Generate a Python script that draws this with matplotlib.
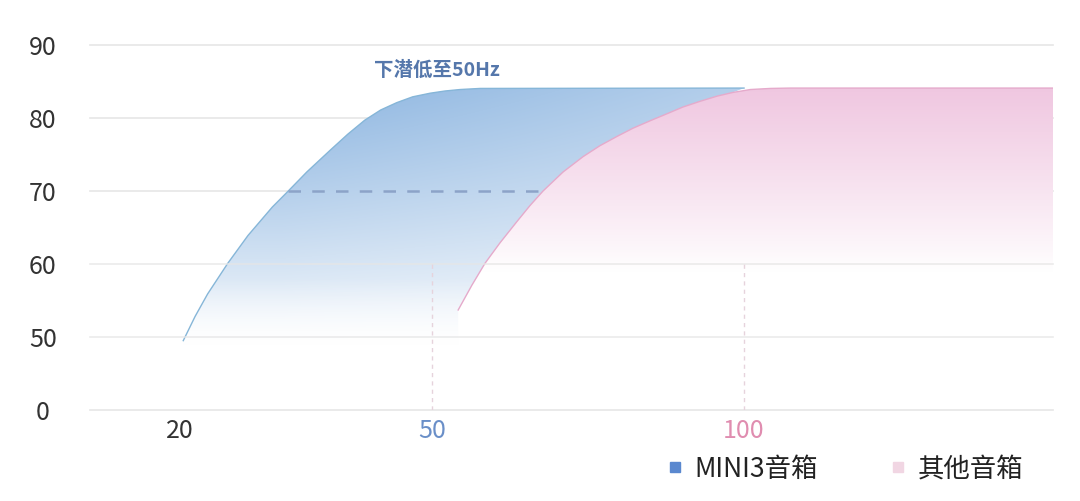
"""Bass extension comparison: MINI3 speaker vs other speakers."""

import matplotlib
matplotlib.use('Agg')
import matplotlib.pyplot as plt
from matplotlib.lines import Line2D
from matplotlib.patches import Polygon
import numpy as np


plt.rcParams['font.family'] = ['Noto Sans CJK SC', 'DejaVu Sans']

# response curves (frequency in Hz, level in dB)
BLUE_HZ = [20.4, 21.8, 23.3, 25.7, 28.1, 31.0, 32.9, 35.1, 37.9, 40.0,
           42.0, 43.9, 45.8, 47.7, 49.8, 52.1, 54.5, 57.7, 100.0]
BLUE_DB = [49.5, 52.8, 55.9, 60.1, 63.9, 67.8, 70.0, 72.6, 75.6, 77.8,
           79.7, 81.1, 82.1, 82.9, 83.4, 83.7, 83.9, 84.05, 84.1]
PINK_HZ = [54.2, 56.4, 58.5, 60.9, 63.6, 65.7, 67.8, 71.0, 74.2, 76.9,
           79.7, 82.2, 84.9, 87.7, 90.2, 93.0, 95.7, 98.2, 101.0, 104.2,
           107.4, 149.5]
PINK_DB = [53.7, 57.1, 60.1, 62.9, 65.8, 68.0, 70.0, 72.6, 74.7, 76.2,
           77.5, 78.6, 79.6, 80.6, 81.5, 82.3, 83.0, 83.5, 83.9, 84.05,
           84.1, 84.1]

SERIES_LABELS = ['MINI3音箱', '其他音箱']
ANNOTATION = '下潜低至50Hz'
ANNOTATION_HZ = 50.8
ANNOTATION_DB = 86.6
MARK_DB = 70.0

X_TICK_HZ = [20, 50, 100]
X_TICK_LABELS = ['20', '50', '100']
X_TICK_COLORS = ['#333333', '#6a8fc8', '#e08db0']
X_LIMITS_HZ = (9.3, 149.5)

# the value axis is broken: the bottom line carries the label "0"
Y_TICK_POS = [40, 50, 60, 70, 80, 90]
Y_TICK_LABELS = ['0', '50', '60', '70', '80', '90']

# uneven spacing of the frequency ticks in the original drawing
TICK_SPACING = [0.0, 252.0, 564.0]

BLUE = np.array([0.55, 0.71, 0.88])
PINK = np.array([0.94, 0.78, 0.88])


def hz_to_x(hz):
    """Map frequency to the horizontal layout position of the chart."""
    hz = np.asarray(hz, dtype=float)
    x = np.interp(hz, X_TICK_HZ, TICK_SPACING)
    left_slope = (TICK_SPACING[1] - TICK_SPACING[0]) / (X_TICK_HZ[1] - X_TICK_HZ[0])
    right_slope = (TICK_SPACING[2] - TICK_SPACING[1]) / (X_TICK_HZ[2] - X_TICK_HZ[1])
    x = np.where(hz < X_TICK_HZ[0],
                 TICK_SPACING[0] + (hz - X_TICK_HZ[0]) * left_slope, x)
    x = np.where(hz > X_TICK_HZ[-1],
                 TICK_SPACING[-1] + (hz - X_TICK_HZ[-1]) * right_slope, x)
    return x


def gradient_fill(ax, verts, rgba, extent, zorder):
    """Draw an RGBA gradient image clipped to a polygon."""
    patch = Polygon(verts, closed=True, facecolor='none', edgecolor='none')
    ax.add_patch(patch)
    image = ax.imshow(rgba, extent=extent, origin='lower', aspect='auto',
                      interpolation='bilinear', zorder=zorder)
    image.set_clip_path(patch)


def main():
    fig = plt.figure(figsize=(10.8, 5.01), dpi=100)
    ax = fig.add_axes([90 / 1080, 1 - 410 / 501, 963 / 1080, 365 / 501])

    x0, x1 = hz_to_x(X_LIMITS_HZ)
    y0, y1 = Y_TICK_POS[0], Y_TICK_POS[-1]
    extent = [x0, x1, y0, y1]

    gx = np.linspace(x0, x1, 500)
    gy = np.linspace(y0, y1, 300)
    grid_x, grid_y = np.meshgrid(gx, gy)

    # blue layer: saturated near the top, fading to white below
    t_blue = np.clip((grid_y - 49) / 35, 0, 1) ** 0.85
    t_blue *= 1 - 0.35 * np.clip((grid_x - hz_to_x(32)) / (hz_to_x(100) - hz_to_x(32)), 0, 1)
    blue_rgba = np.ones(grid_x.shape + (4,))
    blue_rgba[..., :3] = 1 - t_blue[..., None] * (1 - BLUE)
    blue_rgba[..., 3] = np.clip((grid_y - 47) / 11, 0, 1)

    # pink layer: opaque (hides the blue one), fading to white near 60
    t_pink = np.clip((grid_y - 59) / 25, 0, 1) ** 0.9
    pink_rgba = np.ones(grid_x.shape + (4,))
    pink_rgba[..., :3] = 1 - t_pink[..., None] * (1 - PINK)
    pink_rgba[..., 3] = np.clip((grid_y - 51) / 4, 0, 1)

    blue_x = hz_to_x(BLUE_HZ)
    pink_x = hz_to_x(PINK_HZ)

    for pos in Y_TICK_POS:
        on_top = pos in (50, 60)
        ax.axhline(pos, color='#e6e6e6', linewidth=1.2, clip_on=False,
                   zorder=4 if on_top else 0, alpha=0.8 if on_top else 1.0)

    for hz in X_TICK_HZ[1:]:
        ax.plot([hz_to_x(hz)] * 2, [y0, 60], color='#e6d3dc', linewidth=1.0,
                dashes=(3, 3), zorder=4)

    # the blue area ends along the pink curve, which is drawn over it
    under = [i for i, hz in enumerate(PINK_HZ) if hz <= BLUE_HZ[-1]]
    blue_verts = (list(zip(blue_x, BLUE_DB))
                  + [(pink_x[i], PINK_DB[i]) for i in reversed(under)]
                  + [(pink_x[0], y0), (blue_x[0], y0)])
    gradient_fill(ax, blue_verts, blue_rgba, extent, zorder=2)
    ax.plot(blue_x, BLUE_DB, color='#86b6d8', linewidth=1.0, zorder=2.5)

    # dashed marker from the blue curve to the pink curve at 70 dB
    mark_start = np.interp(MARK_DB, BLUE_DB[:9], blue_x[:9])
    mark_end = np.interp(MARK_DB, PINK_DB[:9], pink_x[:9])
    ax.plot([mark_start, mark_end], [MARK_DB, MARK_DB], color='#8ca3c8',
            linewidth=1.8, dashes=(5, 4.5), zorder=2.8)

    pink_verts = list(zip(pink_x, PINK_DB)) + [(pink_x[-1], y0), (pink_x[0], y0)]
    gradient_fill(ax, pink_verts, pink_rgba, extent, zorder=3)
    ax.plot(pink_x, PINK_DB, color='#e5aacb', linewidth=1.0, zorder=3.5)

    ax.text(hz_to_x(ANNOTATION_HZ), ANNOTATION_DB, ANNOTATION, ha='center',
            va='center', fontsize=14, fontweight='bold', color='#5577ab')

    ax.set_xlim(x0, x1)
    ax.set_ylim(y0, y1)
    ax.set_xticks(hz_to_x(X_TICK_HZ))
    ax.set_xticklabels(X_TICK_LABELS, fontsize=18)
    for label, color in zip(ax.get_xticklabels(), X_TICK_COLORS):
        label.set_color(color)
    ax.set_yticks(Y_TICK_POS)
    ax.set_yticklabels(Y_TICK_LABELS, fontsize=18, color='#333333', ha='center')
    ax.tick_params(axis='y', length=0, pad=34)
    ax.tick_params(axis='x', length=0, pad=6)
    for spine in ax.spines.values():
        spine.set_visible(False)

    handles = [
        Line2D([], [], linestyle='none', marker='s', markersize=7,
               color='#5a88cf'),
        Line2D([], [], linestyle='none', marker='s', markersize=7,
               color='#f1d6e3'),
    ]
    fig.legend(handles, SERIES_LABELS, loc='center left',
               bbox_to_anchor=(643 / 1080, 1 - 469 / 501), ncol=2,
               frameon=False, fontsize=19, handlelength=0.6,
               handletextpad=0.45, columnspacing=2.75, labelcolor='#222222')

    fig.savefig('out.png', dpi=100, facecolor='white')


if __name__ == '__main__':
    main()
